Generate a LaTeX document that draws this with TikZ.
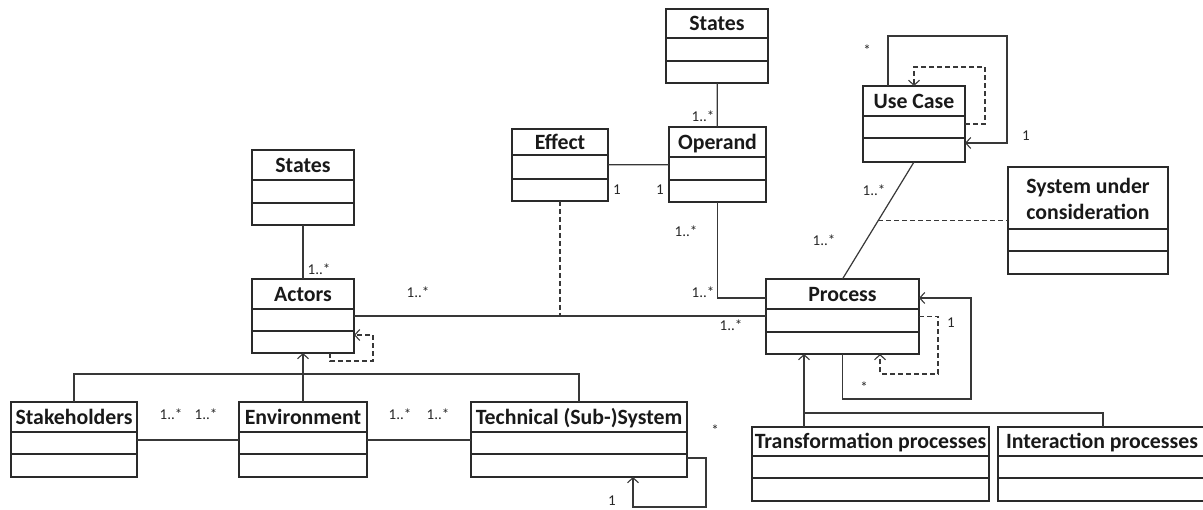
\documentclass[tikz,border=0pt]{standalone}
\usepackage{fontspec}
\setmainfont{Carlito}
\usetikzlibrary{arrows.meta,calc}
\definecolor{ink}{HTML}{2A2A2A}
\definecolor{lnk}{HTML}{383838}
\tikzset{
  clsbox/.style={draw=ink, line width=1.5pt, inner sep=0pt, outer sep=0pt},
  clsline/.style={draw=ink, line width=1.5pt},
  clstitle/.style={inner sep=0pt, anchor=base, font=\fontsize{21.8}{26}\selectfont\bfseries, text=black!90},
  conn/.style={draw=lnk, line width=1.2pt},
  dep/.style={conn, dash pattern=on 5pt off 3pt},
  openarr/.style={-{Straight Barb[length=5pt,width=11pt,line width=1.1pt]}},
  mult/.style={inner sep=0pt, font=\fontsize{15}{17}\selectfont, text=black!85}
}
\newcommand{\umlcls}[8]{%
  \node[clsbox, minimum width={#4pt-#2pt}, minimum height={#5pt-#3pt}, anchor=north west] (#1) at (#2,#3) {};
  \draw[clsline] (#2,#6) -- (#4,#6) (#2,#7) -- (#4,#7);
  \node[clstitle] (#1-t) at ({(#2+#4)/2},{(#3+#6)/2+7.5}) {#8};
}
\begin{document}
\begin{tikzpicture}[x=1pt,y=-1pt]
\useasboundingbox (0,0) rectangle (1203,510);
\clip (0,0) rectangle (1203,510);
% classes
\umlcls{states1}{252}{150}{354}{225}{180}{203}{States}
\umlcls{actors}{252}{279}{354}{353}{309}{331}{Actors}
\umlcls{stake}{11}{402}{137}{477}{432}{454}{Stakeholders}
\umlcls{env}{239}{402}{367}{477}{432}{454}{Environment}
\umlcls{tech}{471}{402}{687}{477}{432}{454}{Technical (Sub-)System}
\umlcls{effect}{512}{129}{608}{201}{155}{179}{Effect}
\umlcls{operand}{669}{127}{766}{202}{157}{180}{Operand}
\umlcls{states2}{666}{9}{768}{83}{38}{61}{States}
\umlcls{usecase}{863}{86}{965}{162}{116}{138}{Use Case}
\umlcls{process}{766}{279}{919}{354}{309}{332}{Process}
\umlcls{transf}{752}{427}{989}{501}{456}{478}{Transformation processes}
\umlcls{interact}{998}{427}{1206}{501}{456}{478}{Interaction processes}
\node[clsbox, minimum width=160pt, minimum height=107pt, anchor=north west] (suc) at (1008,167) {};
\draw[clsline] (1008,229) -- (1168,229) (1008,251) -- (1168,251);
\node[clstitle, anchor=center, align=center] (suc-t) at (1088,199) {System under\\consideration};

% associations
\draw[conn] (states1) -- (actors);
\draw[conn] (states2) -- (operand);
\draw[conn] (effect) -- (operand);
\draw[conn] (actors.east) -- (actors.east -| process.west);
\draw[dep] (effect.south) -- (effect.south |- actors.east);
\draw[conn] (operand.south) |- ($(process.north west)+(0,19)$);
\draw[conn] (usecase.south) -- (process.north) coordinate[pos=0.5] (ucmid);
\draw[dep] (ucmid) -- (ucmid -| suc.west);
\draw[conn] ($(stake.north east)+(0,38)$) -- ($(env.north west)+(0,38)$);
\draw[conn] ($(env.north east)+(0,38)$) -- ($(tech.north west)+(0,38)$);

% self loops
\draw[conn,openarr] ($(usecase.north west)+(25,0)$) -- ++(0,-50) -| ($(usecase.south east)+(42,-19)$) -- ($(usecase.south east)+(0,-19)$);
\draw[dep,openarr] (usecase.east) -- ++(20,0) |- ($(usecase.north)+(0,-19)$) -- (usecase.north);
\draw[conn,openarr] (process.south) -- ++(0,45) -| ($(process.north east)+(52,19)$) -- ($(process.north east)+(0,19)$);
\draw[dep,openarr] (process.east) -- ++(19,0) |- ($(process.south west)+(114,20)$) -- ($(process.south west)+(114,0)$);
\draw[dep,openarr] ($(actors.south east)+(-24,0)$) -- ++(0,8) -| ($(actors.south east)+(19,-18)$) -- ($(actors.south east)+(0,-18)$);
\draw[conn,openarr] ($(tech.south east)+(0,-19)$) -- ++(19,0) |- ($(tech.south west)+(162,30)$) -- ($(tech.south west)+(162,0)$);

% generalisations
\draw[conn,openarr] (env.north) -- (actors.south);
\draw[conn] (stake.north) |- ($(actors.south)+(0,21)$) -| (tech.north);
\draw[conn,openarr] ($(interact.north west)+(105,0)$) |- ($(process.south west)+(38,59)$) -- ($(process.south west)+(38,0)$);
\draw[conn] ($(transf.north west)+(52,0)$) -- ($(process.south west)+(38,59)$);

% multiplicities
\node[mult] (m1) at (319,269) {1..*};
\node[mult] (m2) at (418,292) {1..*};
\node[mult] (m3) at (731,325) {1..*};
\node[mult] (m4) at (703,292) {1..*};
\node[mult] (m5) at (686,231) {1..*};
\node[mult] (m6) at (703,116) {1..*};
\node[mult] (m7) at (617,190) {1};
\node[mult] (m8) at (660,190) {1};
\node[mult] (m9) at (867,50) {*};
\node[mult] (m10) at (1026,136) {1};
\node[mult] (m11) at (874,190) {1..*};
\node[mult] (m12) at (824,240) {1..*};
\node[mult] (m13) at (951,323) {1};
\node[mult] (m14) at (864,387) {*};
\node[mult] (m15) at (171,414) {1..*};
\node[mult] (m16) at (206,414) {1..*};
\node[mult] (m17) at (400,414) {1..*};
\node[mult] (m18) at (438,414) {1..*};
\node[mult] (m19) at (715,430) {*};
\node[mult] (m20) at (612,501) {1};
\end{tikzpicture}
\end{document}
